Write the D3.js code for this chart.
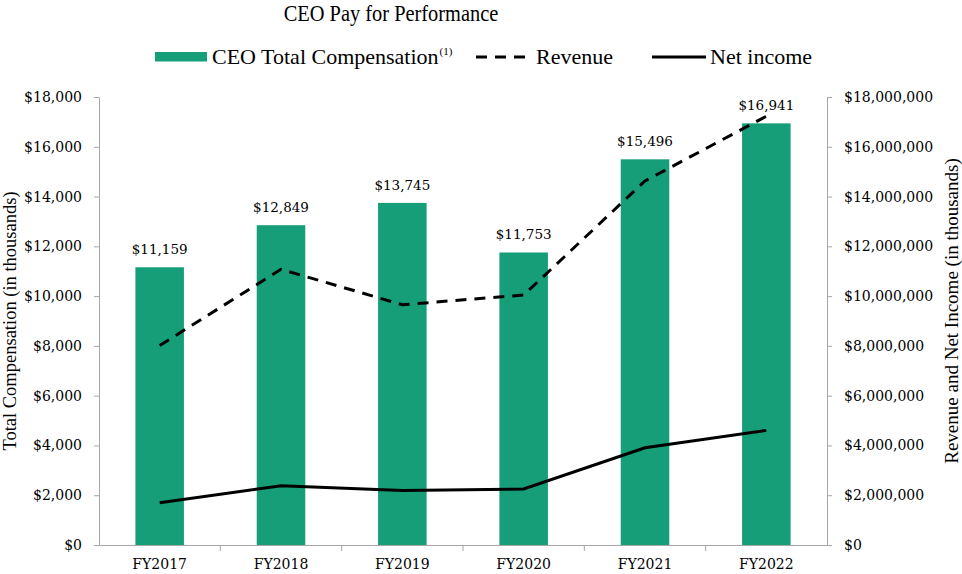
<!DOCTYPE html>
<html><head><meta charset="utf-8">
<script src="https://cdn.jsdelivr.net/npm/d3@7"></script>
<style>body{margin:0;background:#fff}svg{display:block}</style>
</head><body>
<svg id="chart" width="962" height="574"></svg>
<script>
const categories = ["FY2017","FY2018","FY2019","FY2020","FY2021","FY2022"];
const ceoComp = [11159, 12849, 13745, 11753, 15496, 16941];
const revenue = [8013620, 11076998, 9653559, 10044736, 14626150, 17227039];
const netIncome = [1697763, 2380681, 2191430, 2251753, 3908458, 4605286];
const leftTicks = [0,2000,4000,6000,8000,10000,12000,14000,16000,18000];
const rightTicks = [0,2000000,4000000,6000000,8000000,10000000,12000000,14000000,16000000,18000000];

const svg = d3.select("#chart");
const m = {left: 99, right: 827, top: 97, bottom: 545};
const serif = "'Liberation Serif', 'Times New Roman', serif";
const numFont = "'DejaVu Serif', serif";
const axisGray = "#a6a6a6";
const green = "#169e79";

const x = d3.scaleBand().domain(categories).range([m.left, m.right]).padding(0);
const yL = d3.scaleLinear().domain([0,18000]).range([m.bottom, m.top]);
const yR = d3.scaleLinear().domain([0,18000000]).range([m.bottom, m.top]);
const fmt = d3.format("$,");

// Title
svg.append("text").attr("transform","translate(391,21) scale(0.85,1)").attr("text-anchor","middle")
  .attr("font-family", serif).attr("font-size", 24).attr("fill","#000").text("CEO Pay for Performance");

// Bars
const bw = x.bandwidth()*0.4;
svg.append("g").selectAll("rect").data(categories).join("rect")
  .attr("x", d => x(d) + (x.bandwidth()-bw)/2)
  .attr("width", bw)
  .attr("y", (d,i) => yL(ceoComp[i]))
  .attr("height", (d,i) => yL(0) - yL(ceoComp[i]))
  .attr("fill", green);

// Bar labels
svg.append("g").selectAll("text").data(categories).join("text")
  .attr("x", d => x(d) + x.bandwidth()/2)
  .attr("y", (d,i) => yL(ceoComp[i]) - 13)
  .attr("text-anchor","middle").attr("font-family", numFont).attr("font-size", 13.5)
  .attr("fill","#000").text((d,i) => fmt(ceoComp[i]));

// Axes
function styleAxis(g){
  g.select(".domain").attr("stroke", axisGray);
  g.selectAll(".tick line").attr("stroke", axisGray);
  g.selectAll(".tick text").attr("font-family", numFont).attr("font-size", 14).attr("fill","#000");
}
const gL = svg.append("g").attr("transform",`translate(${m.left},0)`)
  .call(d3.axisLeft(yL).tickValues(leftTicks).tickFormat(fmt).tickSize(5).tickSizeOuter(0).tickPadding(12));
styleAxis(gL);
const gR = svg.append("g").attr("transform",`translate(${m.right},0)`)
  .call(d3.axisRight(yR).tickValues(rightTicks).tickFormat(fmt).tickSize(5).tickSizeOuter(0).tickPadding(12));
styleAxis(gR);

// Bottom axis: line plus boundary ticks
const gB = svg.append("g").attr("transform",`translate(0,${m.bottom})`)
  .call(d3.axisBottom(x).tickSize(0).tickPadding(14));
gB.select(".domain").attr("stroke", axisGray);
gB.selectAll(".tick text").attr("font-family", numFont).attr("font-size", 14).attr("fill","#000");
gB.selectAll(".bt").data(categories.slice(1)).join("line").attr("class","bt")
  .attr("x1", d => x(d)).attr("x2", d => x(d)).attr("y1",0).attr("y2",6).attr("stroke", axisGray);

// Lines
const line = d3.line().x((d,i) => x(categories[i]) + x.bandwidth()/2).y(d => yR(d));
svg.append("path").datum(revenue).attr("d", line).attr("fill","none")
  .attr("stroke","#000").attr("stroke-width",3).attr("stroke-dasharray","11,8");
svg.append("path").datum(netIncome).attr("d", line).attr("fill","none")
  .attr("stroke","#000").attr("stroke-width",3);

// Axis titles
svg.append("text").attr("transform",`translate(16,${(m.top+m.bottom)/2}) rotate(-90)`)
  .attr("text-anchor","middle").attr("font-family", serif).attr("font-size", 18.5)
  .text("Total Compensation (in thousands)");
svg.append("text").attr("transform",`translate(958,${(m.top+m.bottom)/2 - 10}) rotate(-90)`)
  .attr("text-anchor","middle").attr("font-family", serif).attr("font-size", 19)
  .text("Revenue and Net Income (in thousands)");

// Legend
const lg = svg.append("g").attr("font-family", serif).attr("font-size", 22);
lg.append("rect").attr("x",155).attr("y",52).attr("width",52).attr("height",9.5).attr("fill",green);
const t1 = lg.append("text").attr("x",212).attr("y",64).text("CEO Total Compensation");
t1.append("tspan").attr("font-size",11).attr("dx",1).attr("dy",-9).text("(1)");
lg.append("line").attr("x1",476).attr("x2",531).attr("y1",57).attr("y2",57)
  .attr("stroke","#000").attr("stroke-width",3).attr("stroke-dasharray","11,8");
lg.append("text").attr("x",536).attr("y",64).text("Revenue");
lg.append("line").attr("x1",652).attr("x2",706).attr("y1",57).attr("y2",57)
  .attr("stroke","#000").attr("stroke-width",3);
lg.append("text").attr("x",710).attr("y",64).text("Net income");
</script>
</body></html>
